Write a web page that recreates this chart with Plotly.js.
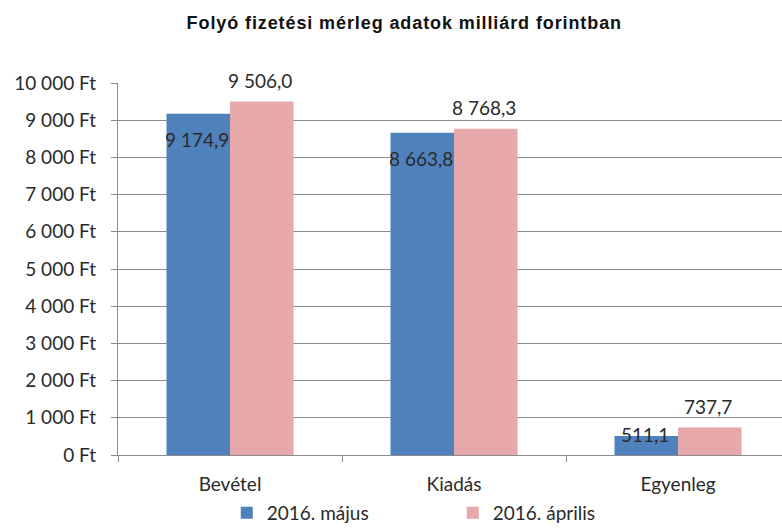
<!DOCTYPE html>
<html>
<head>
<meta charset="utf-8">
<script src="https://cdn.plot.ly/plotly-3.0.1.min.js"></script>
<style>
html,body{margin:0;padding:0;background:#fff;}
#chart{width:782px;height:531px;}
#chart .gtitle{letter-spacing:0.9px;}
</style>
</head>
<body>
<div id="chart"></div>
<script>
const categories = ["Bevétel", "Kiadás", "Egyenleg"];
const seriesNames = ["2016. május", "2016. április"];
const majus = [9174.9, 8663.8, 511.1];
const aprilis = [9506.0, 8768.3, 737.7];
const yTickValues = [0, 1000, 2000, 3000, 4000, 5000, 6000, 7000, 8000, 9000, 10000];

const blue = "#4f81bd";
const pink = "#e6a8a8";
const baseFont = "Lato, 'Open Sans', sans-serif";
const textColor = "#2a2a2a";
const labelFont = {family: baseFont, size: 19, color: textColor};

function fmt(v, decimals) {
  const parts = v.toFixed(decimals).split(".");
  const intPart = parts[0].replace(/\B(?=(\d{3})+(?!\d))/g, " ");
  return parts.length > 1 ? intPart + "," + parts[1] : intPart;
}

const traces = [
  {type: "bar", name: seriesNames[0], x: categories, y: majus, marker: {color: blue}, hoverinfo: "none"},
  {type: "bar", name: seriesNames[1], x: categories, y: aprilis, marker: {color: pink}, hoverinfo: "none"}
];

const annotations = [];
categories.forEach((c, i) => {
  annotations.push({x: c, y: majus[i], xref: "x", yref: "y", text: fmt(majus[i], 1), showarrow: false,
    font: labelFont, xshift: -33, yshift: majus[i] > 2000 ? -26 : 1});
  annotations.push({x: c, y: aprilis[i], xref: "x", yref: "y", text: fmt(aprilis[i], 1), showarrow: false,
    font: labelFont, xshift: 30, yshift: 21});
});

const layout = {
  width: 782, height: 531,
  margin: {l: 118, r: 0, t: 83, b: 76},
  paper_bgcolor: "#fff", plot_bgcolor: "#fff",
  title: {text: "<b>Folyó fizetési mérleg adatok milliárd forintban</b>",
    font: {family: "'Liberation Sans', Arial, sans-serif", size: 18, color: "#111"},
    x: 0.517, xanchor: "center", xref: "container", y: 0.957, yref: "container", yanchor: "middle"},
  barmode: "group", bargap: 0.433, bargroupgap: 0,
  xaxis: {type: "category", range: [-0.5, 2.464], showgrid: false, showline: true, linecolor: "#8c8c8c", linewidth: 1,
    ticks: "outside", tickson: "boundaries", ticklen: 6, tickcolor: "#8c8c8c", ticklabelstandoff: 12,
    tickfont: {family: baseFont, size: 19, color: textColor}, fixedrange: true},
  yaxis: {range: [0, 10000], tickvals: yTickValues, ticktext: yTickValues.map(v => fmt(v, 0) + " Ft"),
    showgrid: true, gridcolor: "#8c8c8c", gridwidth: 1, zeroline: false,
    showline: true, linecolor: "#8c8c8c", ticks: "outside", ticklen: 6, tickcolor: "#8c8c8c", ticklabelstandoff: 11,
    tickfont: {family: baseFont, size: 19, color: textColor}, fixedrange: true},
  showlegend: true,
  legend: {orientation: "h", xref: "container", yref: "container", x: 0.29, xanchor: "left", y: 0.034, yanchor: "middle",
    entrywidth: 181, font: {family: baseFont, size: 19, color: textColor}, itemclick: false, bgcolor: "rgba(0,0,0,0)"},
  annotations: annotations
};

Plotly.newPlot("chart", traces, layout, {displayModeBar: false, staticPlot: true});
</script>
</body>
</html>
